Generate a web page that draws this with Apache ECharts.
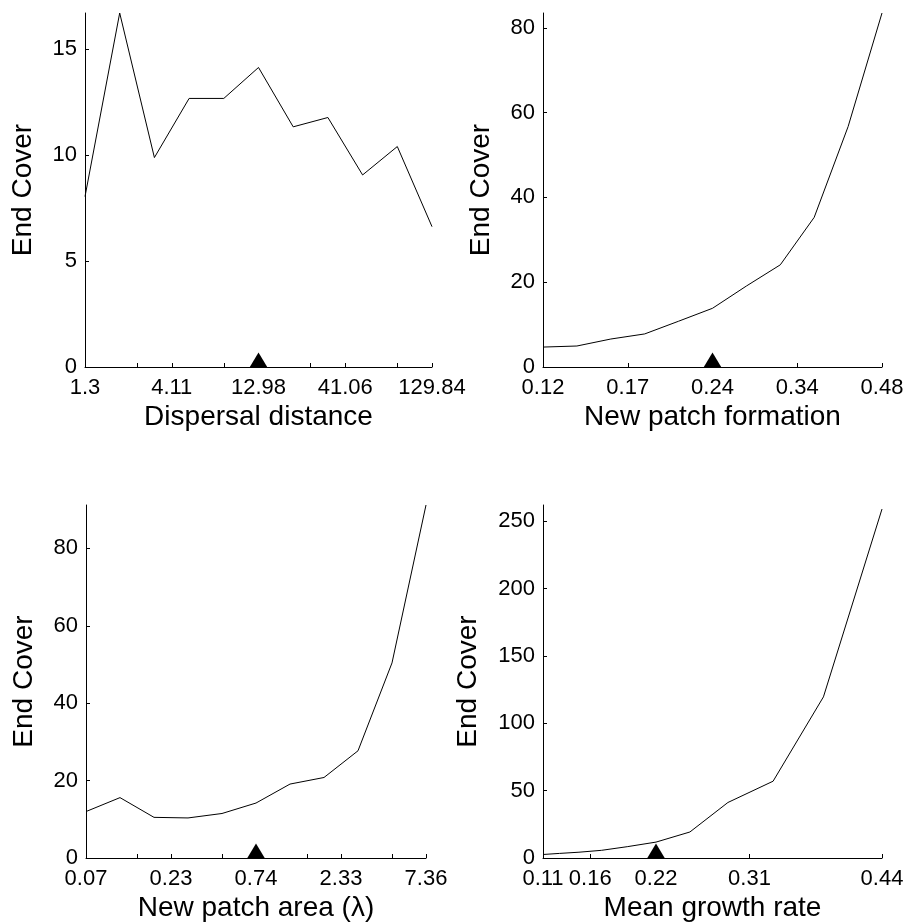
<!DOCTYPE html>
<html lang="en">
<head>
<meta charset="UTF-8">
<title>End cover sensitivity</title>
<style>
  html, body { margin: 0; padding: 0; background: #fff; }
  #chart { width: 908px; height: 924px; }
</style>
</head>
<body>
<div id="chart"></div>
<script src="https://cdn.jsdelivr.net/npm/echarts@6/dist/echarts.min.js"></script>
<script>
// x tick labels, placed at run positions 0, 2.5, 5, 7.5, 10
var dispersalLabels = ['1.3', '4.11', '12.98', '41.06', '129.84'];
var formationLabels = ['0.12', '0.17', '0.24', '0.34', '0.48'];
var areaLabels = ['0.07', '0.23', '0.74', '2.33', '7.36'];
var labelRuns = [0, 2.5, 5, 7.5, 10];
var tickRuns = [0, 1.5, 2.5, 4, 5, 6.5, 7.5, 9, 10];
var growthTicks = [0.11, 0.156, 0.22, 0.311, 0.44];

// end cover for the 11 runs of each parameter
var dispersalCover = [8.04, 16.7, 9.88, 12.67, 12.67, 14.13, 11.33, 11.77, 9.06, 10.4, 6.62];
var formationCover = [4.7, 4.95, 6.6, 7.8, 10.8, 13.85, 19.1, 24.1, 35.3, 56.7, 83.5];
var areaCover = [12.0, 15.6, 10.5, 10.35, 11.5, 14.2, 19.1, 20.8, 27.7, 50.4, 91.2];
var growthRates = [0.11, 0.126, 0.145, 0.167, 0.192, 0.22, 0.253, 0.29, 0.334, 0.383, 0.44];
var growthCover = [2.6, 3.4, 4.3, 5.7, 8.4, 11.8, 19.3, 41.2, 57.0, 119.6, 259];

// default parameter values (triangles)
var baseRun = 5;
var baseGrowth = 0.22;

var yTicks = [[0, 5, 10, 15], [0, 20, 40, 60, 80], [0, 20, 40, 60, 80], [0, 50, 100, 150, 200, 250]];
var yMax = [16.7, 83.5, 91.2, 262];

var font = 'Liberation Sans';
var black = '#000';

var chart = echarts.init(document.getElementById('chart'));

function indexAxis(grid, name, labels, ticks) {
  return {
    gridIndex: grid, type: 'value', min: 0, max: 10,
    name: name, nameLocation: 'middle', nameGap: 36,
    nameTextStyle: { fontFamily: font, fontSize: 28, color: black },
    axisLine: { lineStyle: { color: black, width: 1 } },
    axisTick: { inside: true, length: 4, customValues: ticks, lineStyle: { color: black } },
    splitLine: { show: false },
    axisLabel: {
      fontFamily: font, fontSize: 22, color: black, margin: 10, customValues: labelRuns,
      formatter: function (v) { return labels[labelRuns.indexOf(v)]; }
    }
  };
}

function coverAxis(grid, gap) {
  return {
    gridIndex: grid, type: 'value', min: 0, max: yMax[grid],
    name: 'End Cover', nameLocation: 'middle', nameGap: gap,
    nameTextStyle: { fontFamily: font, fontSize: 28, color: black },
    axisLine: { show: true, lineStyle: { color: black, width: 1 } },
    axisTick: { show: true, inside: true, length: 4, customValues: yTicks[grid], lineStyle: { color: black } },
    splitLine: { show: false },
    axisLabel: { fontFamily: font, fontSize: 22, color: black, margin: 8, customValues: yTicks[grid] }
  };
}

function pairs(xs, ys) {
  return ys.map(function (v, i) { return [xs ? xs[i] : i, v]; });
}

function curve(grid, data) {
  return {
    type: 'line', xAxisIndex: grid, yAxisIndex: grid, data: data,
    showSymbol: false, clip: false, silent: true,
    lineStyle: { color: black, width: 1 }
  };
}

function marker(grid, x) {
  return {
    type: 'scatter', xAxisIndex: grid, yAxisIndex: grid, data: [[x, 0]],
    symbol: 'triangle', symbolSize: [18, 15], symbolOffset: [0, -7],
    clip: false, silent: true, z: 5,
    itemStyle: { color: black, opacity: 1 }
  };
}

var growthAxis = {
  gridIndex: 3, type: 'value', min: 0.11, max: 0.44,
  name: 'Mean growth rate', nameLocation: 'middle', nameGap: 36,
  nameTextStyle: { fontFamily: font, fontSize: 28, color: black },
  axisLine: { lineStyle: { color: black, width: 1 } },
  axisTick: { inside: true, length: 4, customValues: growthTicks, lineStyle: { color: black } },
  splitLine: { show: false },
  axisLabel: {
    fontFamily: font, fontSize: 22, color: black, margin: 10, customValues: growthTicks,
    formatter: function (v) { return v.toFixed(2); }
  }
};

var option = {
  animation: false,
  backgroundColor: '#fff',
  grid: [
    { left: 85, right: 476, top: 13, bottom: 557, outerBoundsMode: 'none' },
    { left: 543, right: 26, top: 13, bottom: 557, outerBoundsMode: 'none' },
    { left: 86, right: 482, top: 505, bottom: 66, outerBoundsMode: 'none' },
    { left: 543, right: 26, top: 505, bottom: 66, outerBoundsMode: 'none' }
  ],
  xAxis: [
    indexAxis(0, 'Dispersal distance', dispersalLabels, tickRuns),
    indexAxis(1, 'New patch formation', formationLabels, labelRuns),
    indexAxis(2, 'New patch area (\u03bb)', areaLabels, tickRuns),
    growthAxis
  ],
  yAxis: [coverAxis(0, 48), coverAxis(1, 48), coverAxis(2, 48), coverAxis(3, 61)],
  series: [
    curve(0, pairs(null, dispersalCover)),
    curve(1, pairs(null, formationCover)),
    curve(2, pairs(null, areaCover)),
    curve(3, pairs(growthRates, growthCover)),
    marker(0, baseRun),
    marker(1, baseRun),
    marker(2, baseRun),
    marker(3, baseGrowth)
  ]
};

chart.setOption(option);
</script>
</body>
</html>
